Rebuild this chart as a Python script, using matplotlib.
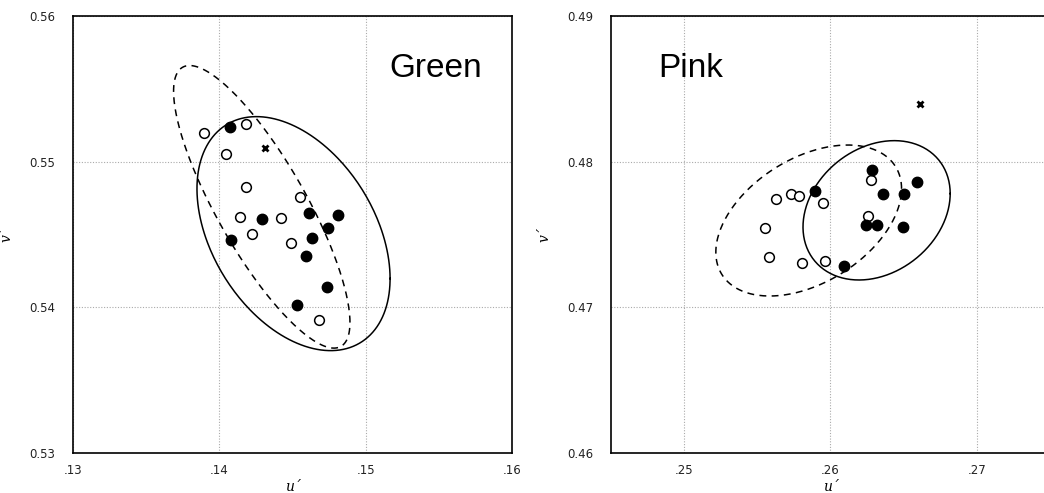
import numpy as np
import matplotlib
matplotlib.use("Agg")
import matplotlib.pyplot as plt
from matplotlib.ticker import FuncFormatter

# Green panel data
green_open_u = [0.13893, 0.14180, 0.14043, 0.14180, 0.14553, 0.14139, 0.14422, 0.14226, 0.14493, 0.14680]
green_open_v = [0.55195, 0.55256, 0.55055, 0.54824, 0.54755, 0.54622, 0.54613, 0.54501, 0.54444, 0.53913]
green_fill_u = [0.14071, 0.14292, 0.14082, 0.14614, 0.14813, 0.14742, 0.14630, 0.14591, 0.14733, 0.14532]
green_fill_v = [0.55236, 0.54604, 0.54465, 0.54645, 0.54632, 0.54542, 0.54474, 0.54352, 0.54137, 0.54014]
green_cross = (0.14311, 0.55096)
# ellipses: centre u, centre v, half-width u, half-height v, correlation
green_solid = (0.14507, 0.54506, 0.006598, 0.008032, -0.384)
green_dashed = (0.14290, 0.54690, 0.006027, 0.009700, -0.818)

# Pink panel data
pink_open_u = [0.25629, 0.25730, 0.25785, 0.25952, 0.25551, 0.25581, 0.25805, 0.25961, 0.26277, 0.26259]
pink_open_v = [0.47744, 0.47776, 0.47767, 0.47716, 0.47545, 0.47346, 0.47304, 0.47316, 0.47874, 0.47627]
pink_fill_u = [0.25892, 0.26092, 0.26282, 0.26362, 0.26504, 0.26591, 0.26241, 0.26316, 0.26497]
pink_fill_v = [0.47801, 0.47286, 0.47943, 0.47776, 0.47776, 0.47863, 0.47563, 0.47563, 0.47554]
pink_cross = (0.26609, 0.48394)
pink_solid = (0.26315, 0.47666, 0.005029, 0.004783, 0.24)
pink_dashed = (0.25851, 0.47596, 0.006346, 0.005183, 0.42)

green_xticks = [0.13, 0.14, 0.15, 0.16]
green_yticks = [0.53, 0.54, 0.55, 0.56]
pink_xticks = [0.25, 0.26, 0.27]
pink_yticks = [0.46, 0.47, 0.48, 0.49]


def ellipse(p):
    cu, cv, hu, hv, rho = p
    t = np.linspace(0, 2 * np.pi, 300)
    u = cu + hu * np.cos(t)
    v = cv + hv * (rho * np.cos(t) + np.sqrt(1 - rho ** 2) * np.sin(t))
    return u, v


def panel(ax, ou, ov, fu, fv, cross, solid, dashed, xlim, ylim, xt, yt, name, nx):
    su, sv = ellipse(solid)
    du, dv = ellipse(dashed)
    ax.plot(su, sv, color="black", lw=1.1, zorder=2)
    ax.plot(du, dv, color="black", lw=1.1, ls=(0, (4.5, 3.5)), zorder=2)
    ax.plot(ou, ov, "o", ms=7, mfc="white", mec="black", mew=1.1, ls="none", zorder=3)
    ax.plot(fu, fv, "o", ms=7.5, mfc="black", mec="black", ls="none", zorder=4)
    ax.plot([cross[0]], [cross[1]], "x", ms=4.5, mew=2, color="black", zorder=4)
    ax.set_xlim(*xlim)
    ax.set_ylim(*ylim)
    ax.set_xticks(xt)
    ax.set_yticks(yt)
    ax.xaxis.set_major_formatter(FuncFormatter(lambda x, p: ("%.2f" % x)[1:]))
    ax.yaxis.set_major_formatter(FuncFormatter(lambda y, p: "%.2f" % y))
    ax.tick_params(length=0, labelsize=8.5, colors="#222222")
    ax.tick_params(axis="y", pad=13)
    ax.tick_params(axis="x", pad=8)
    ax.grid(True, ls=(0, (1, 1.5)), color="#aaaaaa", lw=0.8)
    ax.set_axisbelow(True)
    for s in ax.spines.values():
        s.set_linewidth(1.2)
    ax.set_xlabel("u\u00b4", family="DejaVu Serif", style="italic", fontsize=10, labelpad=2)
    ax.set_ylabel("v\u00b4", family="DejaVu Serif", style="italic", fontsize=10)
    ax.yaxis.set_label_coords(-0.135, 0.5)
    ax.text(nx, 0.86, name, transform=ax.transAxes, fontsize=24,
            family="Liberation Sans", ha="left", va="baseline")


fig = plt.figure(figsize=(10.44, 4.93), dpi=100)
w, h = 439 / 1044, 437 / 493
b = 40 / 493
ax1 = fig.add_axes([73 / 1044, b, w, h])
ax2 = fig.add_axes([611 / 1044, b, w, h])

panel(ax1, green_open_u, green_open_v, green_fill_u, green_fill_v, green_cross,
      green_solid, green_dashed, (0.13, 0.16), (0.53, 0.56),
      green_xticks, green_yticks, "Green", 0.72)
panel(ax2, pink_open_u, pink_open_v, pink_fill_u, pink_fill_v, pink_cross,
      pink_solid, pink_dashed, (0.245, 0.275), (0.46, 0.49),
      pink_xticks, pink_yticks, "Pink", 0.107)

fig.savefig("out.png", dpi=100)
